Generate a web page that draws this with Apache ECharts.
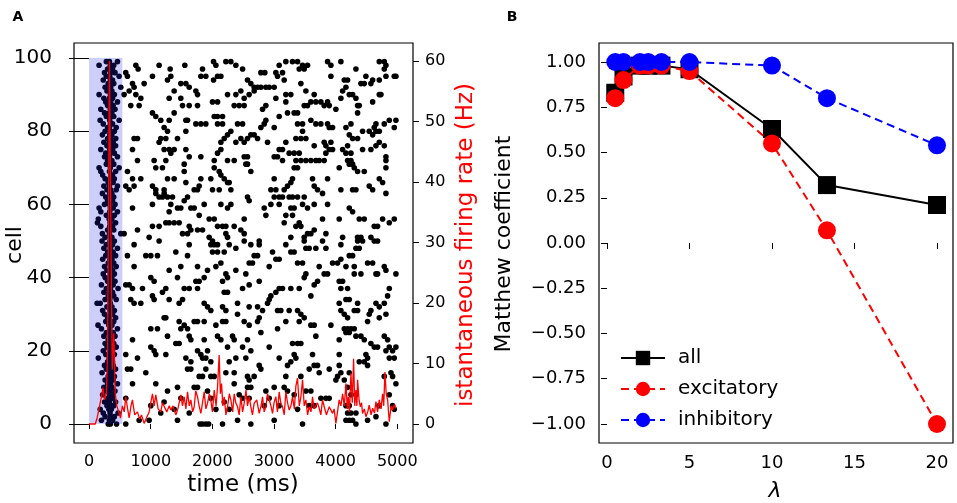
<!DOCTYPE html>
<html lang="en">

<head>
  <meta charset="UTF-8">
  <title>Raster and Matthew coefficient</title>
  <script src="https://cdn.jsdelivr.net/npm/echarts@6/dist/echarts.min.js"></script>
  <style>
    html, body { margin: 0; padding: 0; background: #fff; }
    #main { width: 957px; height: 503px; }
  </style>
</head>

<body>
  <div id="main"></div>
  <script>
    // ---- panel A: raster ----
    // spikes inside the stimulation window, one list of times (ms) per cell 0..99
    var burstSpikes = [
      [310,345,445],[200,330,380],[260,350,410],[230,340,470],[180,320,360],
      [290,350,400],[250,330,430],[300,345,380],[220,335,390],[280,340,420],
      [240,330,370],[300,350,460],[260,320,390],[310,345,410],[210,335,370],
      [280,350,430],[250,330,390],[300,340,380],[150,325,360],[270,345,410],
      [230,330,380],[290,355,440],[260,335,400],[310,345,370],[240,330,420],
      [280,350,390],[200,335,460],[145,320,370],[270,345,400],[300,330,430],
      [250,350,380],[220,340,410],[290,330,370],[130,180,345],[260,335,440],
      [310,350,400],[240,325,380],[280,345,470],[200,335,390],[300,350,420],
      [260,330,370],[230,345,410],[290,335,380],[250,350,440],[310,330,400],
      [220,340,370],[270,355,430],[300,335,390],[240,345,460],[280,330,380],
      [210,340,410],[260,350,370],[216,330,514],[300,345,400],[190,335,380],
      [135,340,430],[150,325,370],[280,350,410],[190,335,460],[162,345,390],
      [250,330,420],[300,350,380],[270,340,400],[216,335,370],[290,350,440],
      [240,330,460],[310,345,390],[260,335,410],[220,350,380],[190,330,430],
      [162,345,487],[280,335,400],[300,350,370],[250,330,460],[270,345,410],
      [190,335,380],[290,350,430],[240,330,390],[300,345,433],[216,335,370],
      [260,350,410],[300,330,440],[230,345,380],[179,335,487],[280,350,400],
      [250,330,370],[190,345,420],[300,335,390],[270,350,460],[240,330,380],
      [162,345,410],[290,335,370],[260,350,514],[310,330,400],[230,345,380],
      [280,335,487],[250,350,420],[300,330,380],[162,345,400],[280,330,460]
    ];

    // spikes after the window, [time ms, cell]
    var laterSpikes = [
      // 540-1250 ms, upper half
      [758,98],[795,97],[1136,98],[595,96],[1028,95],[622,95],[704,93],[730,92],[893,93],
      [568,90],[650,91],[758,90],[839,89],[676,87],[812,87],[1028,85],[1082,84],[1163,83],
      [1217,81],[730,78],[785,78],[1163,78],[1136,77],[704,75],[1217,75],[785,72],[622,69],
      [1055,72],[1082,70],[1190,70],[704,67],[839,67],[730,65],[1028,65],[1082,64],[595,65],
      [650,64],[1217,64],[704,59],[1028,60],[1136,62],[1190,62],[1082,63],[1028,54],[1136,54],
      [785,53],[1136,50],[974,51],[568,52],
      // 1220-2550 ms, upper half
      [2019,99],[2057,98],[2219,99],[2300,99],[2381,98],[2490,97],[1553,98],[1315,97],[1840,97],
      [1813,95],[1894,95],[2084,95],[2138,95],[2019,94],[1272,94],[1326,95],[1488,93],[1570,93],
      [1624,92],[1380,91],[1732,91],[1759,90],[1299,89],[1488,89],[2002,88],[2084,88],[2246,90],
      [2381,90],[2462,91],[1516,87],[1624,87],[1759,87],[2354,87],[2435,87],[2516,87],[1380,85],
      [2030,84],[2084,84],[2165,84],[1570,83],[1597,83],[1299,83],[2490,82],[2408,82],[1732,82],
      [1813,82],[1894,82],[2084,82],[2165,82],[1570,80],[1272,80],[1245,78],[2300,80],[2246,79],
      [2192,78],[2138,77],[1434,78],[2381,77],[2462,78],[2516,77],[2084,74],[2138,75],[1299,75],
      [1326,74],[1380,75],[1570,75],[1245,72],[1624,73],[2030,72],[1813,73],[2246,72],[2354,72],
      [1543,69],[1543,71],[2516,73],[2543,71],[2030,70],[1813,67],[1975,67],[2111,69],[2138,68],
      [2192,67],[2246,66],[1272,67],[1380,67],[1786,65],[1759,64],[1705,64],[1570,66],[2002,64],
      [2111,64],[2273,66],[2300,64],[1218,63],[1272,62],[1353,62],[1597,62],[1543,61],[1867,60],
      [2138,60],[2300,60],[1326,60],[1434,59],[1488,59],[1705,59],[1651,59],[1299,58],[1786,57],
      [1948,56],[2030,56],[2246,59],[1245,55],[1299,55],[1380,55],[1461,55],[1624,54],[1651,53],
      [1759,53],[1840,53],[2084,54],[2165,54],[2219,54],[2354,54],[2462,53],[2516,52],[1516,52],
      [1597,52],[1948,51],[2002,50],[2219,52],[2246,51],
      // 2520-3850 ms, upper half
      [3192,99],[3300,99],[3382,99],[3463,98],[3544,98],[3084,98],[2787,96],[2851,96],[3030,96],
      [3057,95],[3138,96],[3165,94],[3409,97],[3490,97],[2570,94],[2624,93],[2733,92],[2787,92],
      [2868,92],[2922,92],[2678,92],[2597,90],[2678,91],[2516,89],[3192,90],[3273,90],[3003,92],
      [3436,93],[3517,91],[3652,90],[3598,88],[3679,88],[3760,88],[3814,87],[3192,88],[2814,86],
      [2868,87],[3030,89],[3327,85],[3382,85],[3490,87],[3544,87],[3219,85],[3084,84],[3598,83],
      [3679,82],[3760,82],[3382,82],[3463,82],[2868,83],[2841,82],[2787,81],[3003,81],[3463,80],
      [2678,79],[2624,79],[2570,78],[2733,78],[2895,77],[3192,77],[3355,78],[3436,78],[3517,78],
      [3652,76],[3814,77],[3841,74],[3084,75],[3138,75],[3246,74],[3327,74],[3409,74],[2570,73],
      [3003,73],[3057,73],[3138,72],[3355,72],[3436,72],[3517,72],[3598,72],[3679,72],[3733,72],
      [3327,70],[3382,70],[3814,72],[2570,71],[2624,69],[3003,67],[3300,67],[3273,66],[3625,67],
      [3219,65],[2949,64],[3030,64],[3165,64],[3652,65],[3706,64],[3003,62],[3084,62],[3138,62],
      [3246,62],[3300,62],[2570,62],[2597,61],[3382,62],[3490,62],[3787,63],[2841,59],[2949,60],
      [3084,60],[3273,59],[3327,59],[3463,60],[3544,59],[3652,60],[2868,57],[3192,57],[3300,57],
      [3787,56],[2516,56],[3409,55],[3436,54],[3165,55],[3355,54],[3490,51],[3544,52],[3598,52],
      [3652,53],[3273,51],[2760,50],[2516,50],
      // 3820-5000 ms, upper half
      [3869,99],[3923,98],[4085,99],[4329,97],[4708,99],[4789,99],[4816,98],[4789,97],[3923,95],
      [4140,94],[4194,94],[4491,95],[4600,94],[4708,94],[4816,95],[4951,95],[4978,95],[4410,93],
      [4464,93],[4572,93],[4167,92],[4113,91],[4221,90],[4275,90],[4085,89],[4329,89],[4708,90],
      [4735,90],[3869,88],[3896,87],[4356,87],[4383,87],[4600,88],[4004,86],[4356,85],[4789,82],
      [4870,83],[4978,83],[4951,81],[3869,82],[3896,81],[3950,81],[4167,81],[4248,82],[4437,80],
      [4545,80],[4626,81],[4654,82],[4600,79],[4654,80],[4708,80],[4221,79],[4275,78],[4356,78],
      [3923,77],[3842,76],[3896,75],[3950,75],[4113,75],[4194,76],[4167,74],[4248,74],[4572,75],
      [4654,76],[4708,77],[4789,76],[4437,75],[4816,73],[4816,72],[4194,72],[4248,72],[4058,70],
      [4221,71],[4275,71],[4302,70],[4356,69],[4464,69],[4816,70],[3869,67],[4708,67],[4762,66],
      [4085,64],[4275,64],[4329,64],[4545,65],[4600,64],[4816,63],[3869,60],[4221,59],[4275,58],
      [4383,56],[4464,56],[4058,56],[4626,54],[4680,54],[4762,56],[4870,55],[4951,56],[3842,52],
      [4113,51],[4356,51],[4410,51],[4572,51],
      // 540-1250 ms, lower half
      [730,49],[920,46],[1001,46],[1109,46],[622,46],[730,43],[1001,40],[1055,39],[595,38],
      [650,38],[704,37],[866,37],[1190,36],[1028,35],[1055,34],[676,34],[730,33],[839,33],
      [1217,29],[1001,26],[1109,26],[704,23],[1001,21],[1055,20],[785,18],[595,19],[1082,19],
      [622,15],[676,15],[920,14],[1082,11],[704,11],[595,7],[1001,5],[1163,3],[974,1],[595,0],
      [812,1],[1217,6],
      // 1220-2550 ms, lower half
      [1624,49],[1975,49],[2030,49],[2084,49],[2273,49],[1407,47],[1597,46],[2002,47],[2084,47],
      [2192,47],[2381,48],[1299,42],[1488,43],[1759,43],[1921,42],[2057,43],[2138,44],[2219,41],
      [2246,40],[2381,42],[1434,40],[1732,39],[1786,39],[1867,40],[2165,39],[1245,37],[1543,37],
      [1624,37],[1759,37],[2192,36],[2246,36],[2490,37],[1299,34],[1461,33],[1516,34],[1867,33],
      [1921,32],[1975,31],[2165,32],[2219,31],[2408,33],[1245,29],[1461,28],[1705,28],[1759,28],
      [1867,28],[2165,28],[2219,28],[2408,30],[2516,28],[1488,26],[1543,27],[1597,26],[2057,27],
      [1272,24],[1624,24],[1651,23],[2084,24],[2138,23],[2327,24],[2354,23],[1407,22],[1461,22],
      [1867,23],[2246,21],[1245,19],[1759,20],[1813,19],[1921,20],[2490,21],[1570,18],[1651,17],
      [1840,18],[1894,18],[1975,17],[2273,17],[2381,18],[1597,15],[1651,15],[1894,15],[1786,13],
      [1840,13],[1975,13],[2030,13],[2219,14],[2354,14],[1272,9],[1434,10],[1705,10],[1759,10],
      [1921,9],[2354,11],[2435,8],[1488,7],[1975,7],[2192,6],[2490,7],[1380,4],[1624,3],[2057,4],
      [2273,4],[1434,1],[1840,0],[1894,0],[2165,0],[2408,1],[1800,0],[1940,0],
      // 2520-3850 ms, lower half
      [2624,49],[2760,49],[3192,49],[3490,50],[3787,50],[2678,46],[2733,46],[2976,47],[3030,45],
      [3084,45],[3273,47],[3327,47],[3517,48],[3571,48],[3679,48],[2597,44],[2651,44],[2922,43],
      [3382,44],[3463,44],[3733,43],[3814,41],[3517,41],[3490,40],[2543,41],[2760,39],[2597,38],
      [3084,37],[3138,37],[3273,37],[3409,37],[3598,35],[3652,38],[3706,39],[3030,36],[2949,35],
      [2922,34],[2895,33],[2597,32],[2733,32],[2814,31],[3057,31],[3111,31],[3246,31],[3382,31],
      [3436,30],[2760,29],[2733,28],[3192,28],[3409,28],[3490,29],[3598,27],[3652,27],[2597,27],
      [3057,26],[2787,25],[3679,24],[2570,23],[3300,22],[3382,22],[3436,22],[2922,21],[2624,20],
      [3625,19],[3084,18],[3327,19],[3355,18],[2543,18],[3219,16],[3273,17],[2760,16],[2787,15],
      [3571,15],[3652,16],[3706,16],[3733,14],[2570,13],[2597,12],[2678,13],[3192,13],[3436,13],
      [2570,10],[2624,10],[3003,10],[2868,9],[3165,10],[3219,9],[3327,8],[3517,9],[3598,9],
      [2597,7],[2922,7],[3760,7],[2841,5],[3084,5],[3382,4],[3571,5],[3652,5],[3003,1],[2624,0],
      [3463,0],
      // 3820-5000 ms, lower half
      [4085,49],[4356,50],[4437,50],[4626,50],[4680,50],[3842,48],[4329,48],[4383,48],[4221,46],
      [4275,46],[3950,44],[4031,44],[4085,45],[4302,43],[4167,43],[4518,44],[4600,44],[4654,41],
      [4680,41],[4789,43],[4816,42],[4978,41],[3869,41],[4302,41],[4410,41],[4058,39],[4113,39],
      [4194,37],[4085,37],[4870,37],[4843,35],[4167,34],[4221,34],[4058,33],[4356,33],[4654,33],
      [4708,32],[4789,33],[4085,31],[4140,30],[4194,29],[4302,31],[4356,31],[4572,31],[4545,30],
      [4518,28],[4708,29],[4816,30],[3923,27],[4140,26],[4194,26],[4248,26],[4302,26],[4167,25],
      [4221,25],[4329,24],[4410,24],[4464,23],[4789,24],[4843,23],[4058,23],[4572,22],[4626,21],
      [4680,21],[4816,20],[4870,21],[4924,20],[4978,21],[4058,19],[4491,19],[4518,18],[4383,17],
      [4870,18],[4951,18],[3896,15],[4058,16],[4464,17],[4518,16],[4085,14],[4031,13],[4004,12],
      [4221,14],[4140,12],[4897,14],[4924,13],[4978,11],[4789,13],[3842,7],[3896,7],[4194,10],
      [4248,8],[4329,8],[4708,5],[4870,8],[4924,5],[4951,4],[4167,5],[4221,5],[4194,3],[4248,3],
      [4329,3],[4167,1],[4221,1],[4275,1],[4329,0],[4518,1],[4816,0],[4654,2]
    ];

    // stimulation window (ms) and the cells it covers
    var stimWindow = [0, 540];
    var stimCells = [0, 100];

    // instantaneous firing rate, [time ms, Hz]
    var firingRate = [
      [0,0],[100,0],[130,1],[170,3],[200,4.5],[225,6],[250,4],[280,5],[300,12],[330,60],[355,30],
      [375,9],[400,15],[425,5],[450,3],[480,2],[510,1],[540,3],[570,2],[595,4.5],[625,2.5],[650,1],
      [680,3],[703,4],[740,1.5],[785,2],[820,0.8],[850,1.5],[893,0.1],[930,1],[974,2],[1000,3.5],
      [1028,5],[1055,3],[1082,4.8],[1120,2.5],[1163,2],[1190,3.5],[1218,3.4],[1260,2],[1300,3],
      [1326,2.3],[1360,3],[1407,1.5],[1440,2.5],[1489,4.8],[1515,3],[1543,4.5],[1570,2.5],[1597,5.3],
      [1625,3],[1651,4],[1680,2],[1705,2.85],[1730,5.5],[1759,4.5],[1785,3],[1813,1.75],[1840,3.5],
      [1867,5.3],[1895,2.5],[1921,3.4],[1950,5],[1975,4],[2000,2],[2030,5.6],[2060,3],[2084,6.2],
      [2110,11.4],[2130,5],[2149,6.7],[2170,3],[2192,4.5],[2220,1.5],[2246,2.85],[2275,5],[2300,4],
      [2330,2],[2354,5],[2380,3.5],[2408,2.85],[2435,1.5],[2462,4.5],[2490,2],[2516,3.4],[2545,5.6],
      [2570,3],[2600,4.5],[2624,2.85],[2650,1.5],[2678,3.4],[2720,4],[2760,1.75],[2790,3],[2814,4.5],
      [2840,2],[2868,2.85],[2895,5],[2922,4],[2950,3],[2976,1.75],[3000,3.5],[3030,4.5],[3055,2],
      [3084,5.3],[3110,3.5],[3138,2.85],[3165,1.5],[3192,5.3],[3220,3.5],[3246,2.3],[3275,3],
      [3300,4.5],[3330,2.5],[3354,6.2],[3381,7.6],[3410,3],[3436,4.5],[3463,7.3],[3490,3],[3517,4],
      [3545,1.5],[3571,2.85],[3600,2],[3625,4.5],[3650,2.5],[3679,2.3],[3705,3.5],[3733,2.6],
      [3760,1.5],[3787,4],[3815,2.85],[3850,1.5],[3896,2.85],[3920,3],[3950,1.75],[3975,2.5],
      [4004,0.1],[4030,2],[4058,4],[4085,3],[4113,5],[4140,3],[4167,6.7],[4190,2.5],[4205,4.5],
      [4225,2],[4248,8.4],[4270,3.5],[4291,10.8],[4310,3],[4329,5.6],[4345,3],[4356,7.3],[4380,4],
      [4399,2.85],[4420,3.5],[4437,1.75],[4465,2.5],[4491,1.2],[4520,2],[4545,3.1],[4575,1.5],
      [4600,2.6],[4630,1.8],[4654,3.7],[4680,2],[4708,4],[4735,2.5],[4762,5],[4780,3],[4800,8.6],
      [4820,5],[4843,4],[4870,0.4],[4900,3],[4924,2.3],[4950,3.2],[4978,2.6]
    ];

    var timeTicks = [0, 1000, 2000, 3000, 4000, 5000];
    var cellTicks = [0, 20, 40, 60, 80, 100];
    var rateTicks = [0, 10, 20, 30, 40, 50, 60];

    // ---- panel B: Matthew coefficient vs lambda ----
    var lambdas = [0.5, 1, 2, 2.5, 3.3, 5, 10, 13.33, 20];
    var mccAll = [0.83, 0.92, 0.98, 0.98, 0.98, 0.96, 0.63, 0.32, 0.21];
    var mccExcitatory = [0.80, 0.90, 0.98, 0.98, 0.98, 0.95, 0.55, 0.07, -1.00];
    var mccInhibitory = [1.00, 1.00, 1.00, 1.00, 1.00, 1.00, 0.98, 0.80, 0.54];
    var lambdaTicks = [0, 5, 10, 15, 20];
    var mccTicks = [-1, -0.75, -0.5, -0.25, 0, 0.25, 0.5, 0.75, 1];

    var FONT = 'DejaVu Sans';

    // flatten the burst lists into points
    var burstPoints = [];
    burstSpikes.forEach(function (times, cell) {
      times.forEach(function (t) { burstPoints.push([t, cell]); });
    });

    function pairs(xs, ys) {
      return xs.map(function (x, i) { return [x, ys[i]]; });
    }

    function plain(v) {
      return String(v);
    }

    function mccLabel(v) {
      return (v < 0 ? '\u2212' : '') + Math.abs(v).toFixed(2);
    }

    var myChart = echarts.init(document.getElementById('main'), null, { renderer: 'canvas' });

    var option = {
      backgroundColor: '#fff',
      animation: false,
      textStyle: { fontFamily: FONT },
      grid: [
        { left: 74, top: 43, width: 339, height: 400, show: true, borderColor: '#000', borderWidth: 1.2, backgroundColor: 'transparent' },
        { left: 599, top: 43, width: 354, height: 400, show: true, borderColor: '#000', borderWidth: 1.2, backgroundColor: 'transparent' }
      ],
      xAxis: [
        {
          type: 'value', gridIndex: 0, min: -245, max: 5255,
          axisLine: { show: false }, splitLine: { show: false },
          axisTick: { show: true, length: 5, customValues: timeTicks, lineStyle: { color: '#000' } },
          axisLabel: { customValues: timeTicks, margin: 11, fontSize: 16, color: '#000', fontFamily: FONT, formatter: plain }
        },
        {
          type: 'value', gridIndex: 1, min: -0.485, max: 20.97,
          axisLine: { show: false }, splitLine: { show: false },
          axisTick: { show: true, length: 6, customValues: lambdaTicks, lineStyle: { color: '#000' } },
          axisLabel: { customValues: lambdaTicks, margin: 11, fontSize: 18, color: '#000', fontFamily: FONT, formatter: plain }
        }
      ],
      yAxis: [
        {
          type: 'value', gridIndex: 0, min: -5.2, max: 104.1,
          axisLine: { show: false }, splitLine: { show: false },
          axisTick: { show: true, length: 20, customValues: cellTicks, lineStyle: { color: '#000' } },
          axisLabel: { customValues: cellTicks, margin: 22, fontSize: 20, color: '#000', fontFamily: FONT, formatter: plain }
        },
        {
          type: 'value', gridIndex: 0, position: 'right', min: -3.14, max: 62.97,
          axisLine: { show: false }, splitLine: { show: false },
          axisTick: { show: true, length: 6, customValues: rateTicks, lineStyle: { color: '#000' } },
          axisLabel: { customValues: rateTicks, margin: 12, fontSize: 16, color: '#000', fontFamily: FONT, formatter: plain }
        },
        {
          type: 'value', gridIndex: 1, min: -1.105, max: 1.105,
          axisLine: { show: false }, splitLine: { show: false },
          axisTick: { show: true, length: 6, customValues: mccTicks, lineStyle: { color: '#000' } },
          axisLabel: { customValues: mccTicks, margin: 13, fontSize: 18, color: '#000', fontFamily: FONT, formatter: mccLabel }
        }
      ],
      legend: {
        orient: 'vertical',
        left: 615, top: 343,
        itemWidth: 44, itemHeight: 18, itemGap: 11,
        textStyle: { fontSize: 20, color: '#000', fontFamily: FONT, padding: [0, 0, 0, 8] },
        data: ['all', 'excitatory', 'inhibitory']
      },
      series: [
        {
          name: 'raster', type: 'scatter', xAxisIndex: 0, yAxisIndex: 0,
          symbolSize: 5.6, itemStyle: { color: '#000', opacity: 1 }, z: 2, silent: true,
          data: burstPoints.concat(laterSpikes)
        },
        {
          // shaded stimulation window, over the dots
          type: 'custom', xAxisIndex: 0, yAxisIndex: 0, z: 3, silent: true,
          data: [[stimWindow[0], stimWindow[1], stimCells[0], stimCells[1]]],
          renderItem: function (params, api) {
            var p0 = api.coord([api.value(0), api.value(3)]);
            var p1 = api.coord([api.value(1), api.value(2)]);
            return {
              type: 'rect',
              shape: { x: p0[0], y: p0[1], width: p1[0] - p0[0], height: p1[1] - p0[1] },
              style: { fill: 'rgba(30,30,230,0.22)' }
            };
          }
        },
        {
          name: 'rate', type: 'line', xAxisIndex: 0, yAxisIndex: 1,
          showSymbol: false, z: 4, silent: true,
          lineStyle: { color: '#ff0000', width: 1.3 },
          data: firingRate
        },
        {
          name: 'all', type: 'line', xAxisIndex: 1, yAxisIndex: 2,
          symbol: 'rect', symbolSize: 18, z: 5,
          itemStyle: { color: '#000' },
          lineStyle: { color: '#000', width: 2 },
          data: pairs(lambdas, mccAll)
        },
        {
          name: 'excitatory', type: 'line', xAxisIndex: 1, yAxisIndex: 2,
          symbol: 'circle', symbolSize: 18, z: 6,
          itemStyle: { color: '#ff0000' },
          lineStyle: { color: '#ff0000', width: 2, type: [8, 5] },
          data: pairs(lambdas, mccExcitatory)
        },
        {
          name: 'inhibitory', type: 'line', xAxisIndex: 1, yAxisIndex: 2,
          symbol: 'circle', symbolSize: 18, z: 7,
          itemStyle: { color: '#0000ff' },
          lineStyle: { color: '#0000ff', width: 2, type: [8, 5] },
          data: pairs(lambdas, mccInhibitory)
        }
      ],
      graphic: [
        { type: 'text', x: 18, y: 17, style: { text: 'A', font: 'bold 14px ' + FONT, fill: '#000', align: 'center', verticalAlign: 'middle' } },
        { type: 'text', x: 512, y: 17, style: { text: 'B', font: 'bold 14px ' + FONT, fill: '#000', align: 'center', verticalAlign: 'middle' } },
        { type: 'text', x: 15, y: 245, rotation: Math.PI / 2, style: { text: 'cell', font: '22px ' + FONT, fill: '#000', align: 'center', verticalAlign: 'middle' } },
        { type: 'text', x: 243, y: 485, style: { text: 'time (ms)', font: '23px ' + FONT, fill: '#000', align: 'center', verticalAlign: 'middle' } },
        { type: 'text', x: 466, y: 245, rotation: Math.PI / 2, style: { text: 'istantaneous firing rate (Hz)', font: '23px ' + FONT, fill: '#ff0000', align: 'center', verticalAlign: 'middle' } },
        { type: 'text', x: 504, y: 244, rotation: Math.PI / 2, style: { text: 'Matthew coefficient', font: '22px ' + FONT, fill: '#000', align: 'center', verticalAlign: 'middle' } },
        { type: 'text', x: 775, y: 491, style: { text: 'λ', font: 'italic 22px ' + FONT, fill: '#000', align: 'center', verticalAlign: 'middle' } }
      ]
    };
    myChart.setOption(option);
  </script>
</body>

</html>
